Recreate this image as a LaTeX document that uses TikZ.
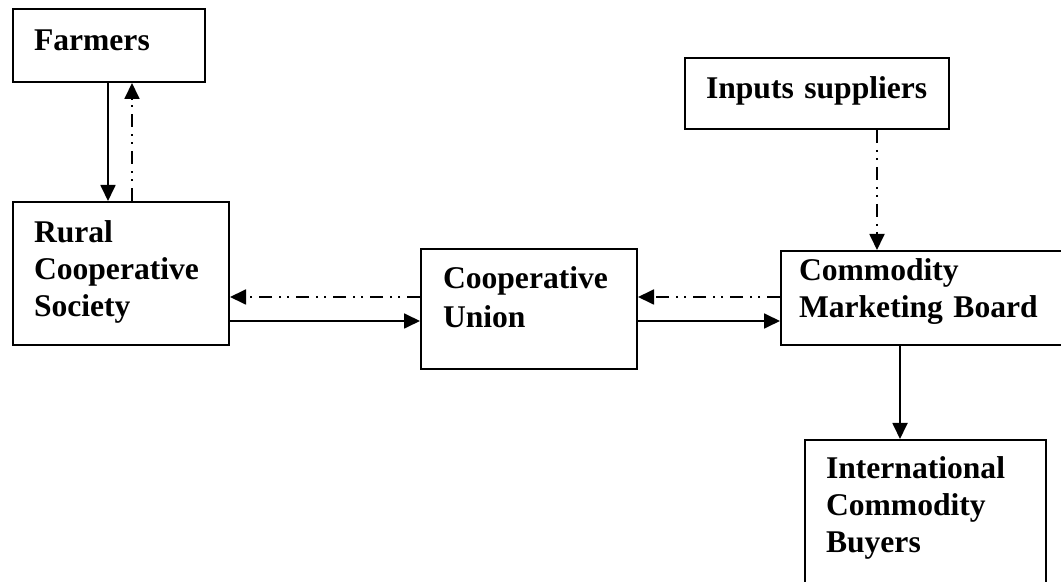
\documentclass[tikz,border=0pt]{standalone}
\usepackage{fontspec}
\setmainfont{Liberation Serif}
\usetikzlibrary{arrows.meta,positioning,calc}
\tikzstyle{flowbox}=[draw,line width=1pt,anchor=north west,align=left,inner xsep=10.5pt,inner ysep=0pt,text height=20.5pt,font=\fontsize{15.8pt}{18.5pt}\selectfont\bfseries]
\tikzstyle{mainarrow}=[line width=0.9pt,-{Triangle[length=8pt,width=7.5pt]}]
\tikzstyle{dotarrow}=[mainarrow,dash pattern=on 6.5pt off 3.5pt on 1pt off 3pt on 1pt off 3.5pt]

\begin{document}
\begin{tikzpicture}[x=0.5pt,y=-0.5pt]
    \useasboundingbox (0,0) rectangle (1061,582);
    % boxes
    \node [flowbox,text width=75pt,text height=21pt,text depth=15.5pt] (farmers) at (12,8) {Farmers};
    \node [flowbox,text width=87pt,text depth=51pt] (rural) at (12,201) {Rural\\Cooperative\\Society};
    \node [flowbox,inner xsep=11pt,text width=86pt,text height=20pt,text depth=40pt] (union) at (420,248) {Cooperative\\[1pt]Union};
    \node [flowbox,text width=111pt,text depth=15pt] (inputs) at (684,57) {Inputs suppliers};
    \node [flowbox,inner xsep=9pt,text width=127pt,text height=15pt,text depth=32pt] (board) at (780,250) {Commodity\\Marketing Board};
    \node [flowbox,text width=99.5pt,text height=19.5pt,text depth=60.5pt] (buyers) at (804,439) {International\\Commodity\\Buyers};
    % connectors
    \draw [mainarrow] ([xshift=48pt]farmers.south west) -- ([xshift=48pt]farmers.south west |- rural.north);
    \draw [dotarrow] ([xshift=60pt]rural.north west) -- ([xshift=60pt]rural.north west |- farmers.south);
    \draw [mainarrow] ([yshift=-60pt]rural.north east) -- ([yshift=-60pt]rural.north east -| union.west);
    \draw [dotarrow] ([yshift=-48pt]rural.north east -| union.west) -- ([yshift=-48pt]rural.north east);
    \draw [mainarrow] ([yshift=-36.5pt]union.north east) -- ([yshift=-36.5pt]union.north east -| board.west);
    \draw [dotarrow] ([yshift=-24.5pt]union.north east -| board.west) -- ([yshift=-24.5pt]union.north east);
    \draw [dotarrow] ([xshift=96.5pt]inputs.south west) -- ([xshift=96.5pt]inputs.south west |- board.north);
    \draw [mainarrow] ([xshift=60pt]board.south west) -- ([xshift=60pt]board.south west |- buyers.north);
\end{tikzpicture}
\end{document}
